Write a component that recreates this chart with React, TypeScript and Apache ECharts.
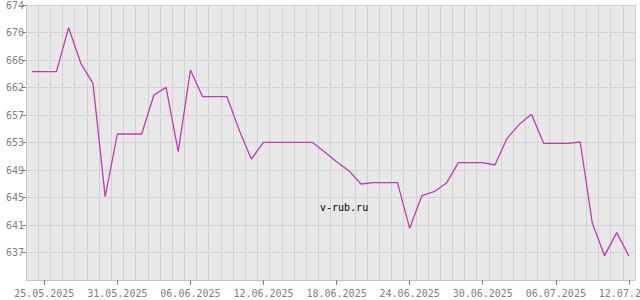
import React, { useEffect, useRef } from "react";
import * as echarts from "echarts";

const dates = [
  "24.05.2025", "25.05.2025", "26.05.2025", "27.05.2025", "28.05.2025", "29.05.2025", "30.05.2025", "31.05.2025",
  "01.06.2025", "02.06.2025", "03.06.2025", "04.06.2025", "05.06.2025", "06.06.2025", "07.06.2025", "08.06.2025",
  "09.06.2025", "10.06.2025", "11.06.2025", "12.06.2025", "13.06.2025", "14.06.2025", "15.06.2025", "16.06.2025",
  "17.06.2025", "18.06.2025", "19.06.2025", "20.06.2025", "21.06.2025", "22.06.2025", "23.06.2025", "24.06.2025",
  "25.06.2025", "26.06.2025", "27.06.2025", "28.06.2025", "29.06.2025", "30.06.2025", "01.07.2025", "02.07.2025",
  "03.07.2025", "04.07.2025", "05.07.2025", "06.07.2025", "07.07.2025", "08.07.2025", "09.07.2025", "10.07.2025",
  "11.07.2025", "12.07.2025",
];

const rates = [
  664.0, 664.0, 664.0, 670.6, 665.25, 662.25, 645.25, 654.65,
  654.65, 654.65, 660.5, 661.65, 652.0, 664.25, 660.25, 660.25,
  660.25, 655.25, 650.9, 653.4, 653.4, 653.4, 653.4, 653.4,
  652.0, 650.5, 649.15, 647.15, 647.35, 647.35, 647.35, 640.5,
  645.4, 646.0, 647.25, 650.35, 650.35, 650.35, 650.0, 654.0,
  656.1, 657.6, 653.25, 653.25, 653.25, 653.45, 641.25, 636.4,
  639.85, 636.35,
];

const yTickValues = [636.875, 641, 645.125, 649.25, 653.375, 657.5, 661.625, 665.75, 669.875, 674];
const yTickLabels = ["637", "641", "645", "649", "653", "657", "662", "666", "670", "674"];
const yMin = 632.75;
const yMax = 674;

const watermark = "v-rub.ru";

export default function App() {
  const ref = useRef<HTMLDivElement>(null);
  useEffect(() => {
    if (!ref.current) return;
    const chart = echarts.init(ref.current, null, { renderer: "svg" });
    const labelEvery = (i: number) => i % 6 === 1;
    chart.setOption({
      animation: false,
      backgroundColor: "#ffffff",
      grid: {
        left: 26,
        right: 5,
        top: 5,
        bottom: 20,
        containLabel: false,
        outerBoundsMode: "none",
        show: true,
        backgroundColor: "#e8e8e8",
        borderWidth: 0,
      },
      xAxis: {
        type: "category",
        data: dates,
        boundaryGap: true,
        axisLine: { show: true, lineStyle: { color: "#c4c4c4", width: 1 } },
        axisTick: {
          show: true,
          alignWithLabel: true,
          interval: (i: number) => labelEvery(i),
          length: 5,
          lineStyle: { color: "#808080" },
        },
        axisLabel: {
          interval: (i: number) => labelEvery(i),
          color: "#808080",
          fontFamily: "DejaVu Sans Mono",
          fontSize: 10,
          margin: 8,
          hideOverlap: false,
        },
        splitLine: { show: true, interval: 0, lineStyle: { color: "#d2d2d2", width: 1 } },
      },
      yAxis: {
        type: "value",
        min: yMin,
        max: yMax,
        axisLine: { show: true, lineStyle: { color: "#c4c4c4", width: 1 } },
        axisTick: {
          show: true,
          length: 4,
          customValues: yTickValues,
          lineStyle: { color: "#808080" },
        },
        axisLabel: {
          customValues: yTickValues,
          color: "#808080",
          fontFamily: "DejaVu Sans Mono",
          fontSize: 10,
          margin: 2,
          formatter: (v: number) => {
            const idx = yTickValues.findIndex((t) => Math.abs(t - v) < 1e-6);
            return idx >= 0 ? yTickLabels[idx] : "";
          },
        },
        splitLine: { show: true, lineStyle: { color: "#d2d2d2", width: 1 } },
      },
      graphic: [
        {
          type: "text",
          left: 320,
          top: 202,
          style: {
            text: watermark,
            fill: "#000000",
            font: "10px 'DejaVu Sans Mono'",
          },
          z: 100,
        },
      ],
      series: [
        {
          type: "line",
          data: rates,
          symbol: "none",
          lineStyle: { color: "#c23bb3", width: 1.3 },
          itemStyle: { color: "#c23bb3" },
          z: 10,
        },
      ],
    });
    return () => chart.dispose();
  }, []);
  return (
    <div
      ref={ref}
      style={{ position: "fixed", left: 0, top: 0, width: 640, height: 300 }}
    />
  );
}
